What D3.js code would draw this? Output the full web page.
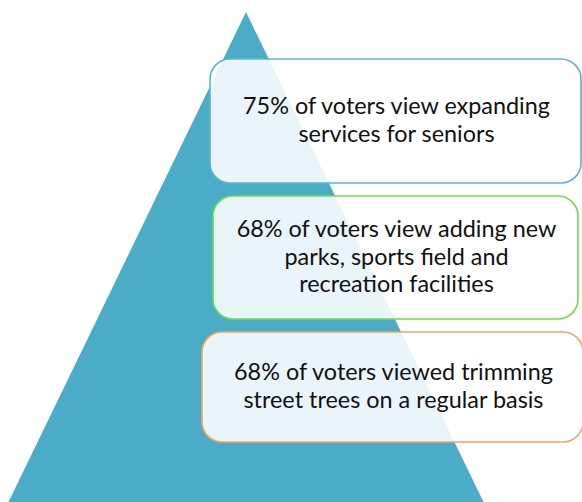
<!DOCTYPE html>
<html>
<head>
<meta charset="utf-8">
<script src="https://cdn.jsdelivr.net/npm/d3@7"></script>
<style>
  body { margin: 0; background: #fff; }
  svg { display: block; }
</style>
</head>
<body>
<script>
var W = 582, H = 502;

// survey findings, top of pyramid first
var percents = [75, 68, 68];
var findings = [
  ['% of voters view expanding', 'services for seniors'],
  ['% of voters view adding new', 'parks, sports field and', 'recreation facilities'],
  ['% of voters viewed trimming', 'street trees on a regular basis']
];
var borderColors = ['#5db5cd', '#6edd4c', '#f4a35e'];

// box layout (pixels)
var boxes = [
  { x0: 210, x1: 581, y0: 59, y1: 183 },
  { x0: 213, x1: 578, y0: 196, y1: 319 },
  { x0: 202, x1: 583, y0: 332, y1: 442 }
];

var svg = d3.select('body').append('svg')
  .attr('width', W)
  .attr('height', H);

// pyramid: apex at top, widening to the bottom edge
var y = d3.scaleLinear().domain([0, 1]).range([12, 502]);
var half = d3.scaleLinear().domain([0, 1]).range([0, 237.5]);
var cx = 246;

var line = d3.line()
  .x(function(d) { return cx + d[0] * half(d[1]); })
  .y(function(d) { return y(d[1]); });

svg.append('path')
  .attr('d', line([[0, 0], [1, 1], [-1, 1]]) + 'Z')
  .attr('fill', '#4aacc6');

var g = svg.selectAll('g.box')
  .data(findings)
  .enter().append('g')
  .attr('class', 'box');

g.append('rect')
  .attr('x', function(d, i) { return boxes[i].x0; })
  .attr('y', function(d, i) { return boxes[i].y0; })
  .attr('width', function(d, i) { return boxes[i].x1 - boxes[i].x0; })
  .attr('height', function(d, i) { return boxes[i].y1 - boxes[i].y0; })
  .attr('rx', 20)
  .attr('fill', '#fff')
  .attr('fill-opacity', 0.88)
  .attr('stroke', function(d, i) { return borderColors[i]; })
  .attr('stroke-width', 1.6);

var lh = 27.7;
g.append('text')
  .attr('text-anchor', 'middle')
  .attr('font-family', 'Lato, "Open Sans", sans-serif')
  .attr('font-size', 23.4)
  .attr('fill', '#111')
  .each(function(d, i) {
    var b = boxes[i];
    var mx = (b.x0 + b.x1) / 2 + 1;
    var first = (b.y0 + b.y1) / 2 + 7 - (d.length - 1) * lh / 2;
    d3.select(this).selectAll('tspan')
      .data(d)
      .enter().append('tspan')
      .attr('x', mx)
      .attr('y', function(t, j) { return first + j * lh; })
      .text(function(t, j) { return j === 0 ? percents[i] + t : t; });
  });
</script>
</body>
</html>
